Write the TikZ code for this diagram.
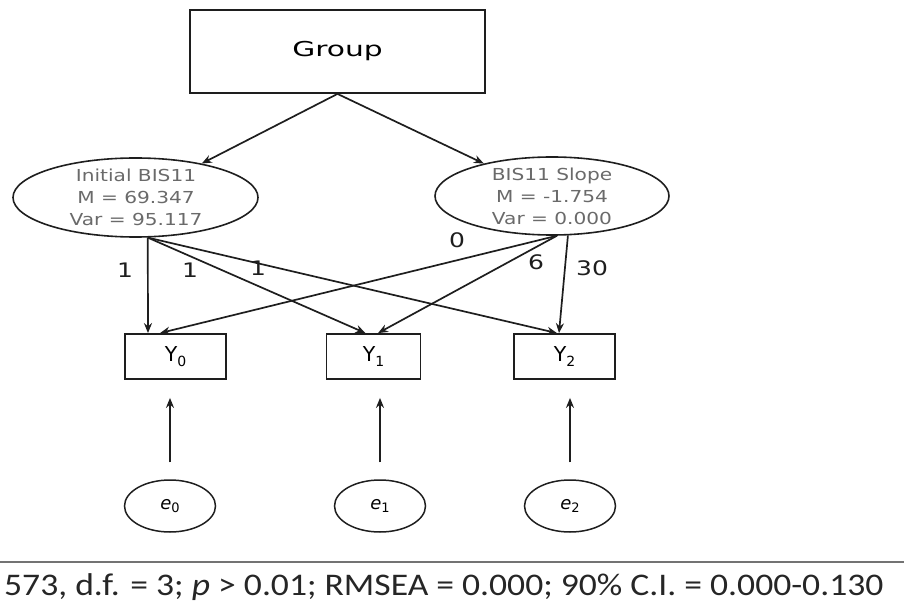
\documentclass[tikz,border=0pt]{standalone}
\usepackage{fontspec}
\usetikzlibrary{shapes.geometric,arrows.meta,calc}
\newfontfamily\grpfont[FakeStretch=1.45]{DejaVu Sans}
\newfontfamily\ellfont[FakeStretch=1.22]{DejaVu Sans}
\newfontfamily\labfont[FakeStretch=1.25]{DejaVu Sans}
\newfontfamily\yfont{DejaVu Sans}
\newfontfamily\botfont[FakeStretch=1.13]{Carlito}
\definecolor{inkc}{HTML}{1E1E1E}
\definecolor{elltxt}{HTML}{6A6A6A}
\newcommand{\ylab}[1]{{\yfont\fontsize{20.5}{24}\selectfont Y\raisebox{-4.5pt}{\fontsize{14}{14}\selectfont #1}}}
\newcommand{\elab}[1]{{\yfont\fontsize{18}{22}\selectfont\itshape e\raisebox{-3pt}{\upshape\fontsize{13}{14}\selectfont #1}}}
\begin{document}
\begin{tikzpicture}[x=1pt,y=-1pt,
  arr/.style={draw=inkc, line width=1.7pt, -{Stealth[length=10pt,width=8pt]}},
  rectbox/.style={draw=inkc, line width=1.8pt, inner sep=0pt},
  bigell/.style={ellipse, draw=inkc, line width=1.6pt, inner sep=0pt},
  elltext/.style={align=center, text=elltxt, font=\ellfont\fontsize{16.5}{22}\selectfont, inner sep=0pt},
  errell/.style={ellipse, draw=inkc, line width=1.5pt, inner sep=0pt, minimum width=91pt, minimum height=52pt},
  coef/.style={font=\labfont\fontsize{20}{22}\selectfont, text=inkc, inner sep=0pt}
]
\useasboundingbox (0,0) rectangle (904,612);

% Group
\node[rectbox, minimum width=295pt, minimum height=83pt] (grp) at (337.5,51.5)
  {\grpfont\fontsize{20.5}{24}\selectfont Group};

% latent ellipses
\node[bigell, minimum width=245pt, minimum height=79pt] (ini) at (135.5,197.5) {};
\node[elltext] (initxt) at (136,197) {Initial BIS11\\M = 69.347\\Var = 95.117};
\node[bigell, minimum width=234pt, minimum height=78pt] (slo) at (552,196) {};
\node[elltext] (slotxt) at (552,196) {BIS11 Slope\\M = -1.754\\Var = 0.000};

% observed
\node[rectbox, minimum width=101pt, minimum height=45pt] (y0) at (175.5,356.5) {\ylab{0}};
\node[rectbox, minimum width=94pt, minimum height=45pt] (y1) at (373.5,356.5) {\ylab{1}};
\node[rectbox, minimum width=101pt, minimum height=45pt] (y2) at (564.5,356.5) {\ylab{2}};

% errors
\node[errell] (e0) at (170,506) {\elab{0}};
\node[errell] (e1) at (380,506) {\elab{1}};
\node[errell] (e2) at (570,506) {\elab{2}};

% group paths
\draw[arr] (grp.south) -- (ini);
\draw[arr] (grp.south) -- (slo);

% loadings
\draw[arr] (ini.-73) -- ([xshift=-27.5pt]y0.north);
\draw[arr] (ini.-73) -- ([xshift=-8pt]y1.north);
\draw[arr] (ini.-73) -- ([xshift=-7.5pt]y2.north);
\draw[arr] (slo.-83) -- ([xshift=-15.5pt]y0.north);
\draw[arr] (slo.-83) -- ([xshift=4.5pt]y1.north);
\draw[arr] (slo.-68) -- ([xshift=-5.5pt]y2.north);

% error arrows
\draw[arr, shorten <=17pt, shorten >=18pt] (e0.north) -- (e0.north |- y0.south);
\draw[arr, shorten <=17pt, shorten >=18pt] (e1.north) -- (e1.north |- y1.south);
\draw[arr, shorten <=17pt, shorten >=18pt] (e2.north) -- (e2.north |- y2.south);

% coefficient labels
\node[coef] (l1) at (125,270) {1};
\node[coef] (l2) at (190,270) {1};
\node[coef] (l3) at (258,268) {1};
\node[coef] (l4) at (457,240) {0};
\node[coef] (l5) at (536,262) {6};
\node[coef] (l6) at (592,268) {30};

% fit line
\draw[draw=black!55, line width=2pt] (0,562) -- (904,562);
\node[anchor=base west, inner sep=0pt, text=black!85] (fit) at (4,595)
  {\botfont\fontsize{31.5}{34}\selectfont 573, d.f. = 3; \textit{p} > 0.01; RMSEA = 0.000; 90\% C.I. = 0.000-0.130};
\end{tikzpicture}
\end{document}
